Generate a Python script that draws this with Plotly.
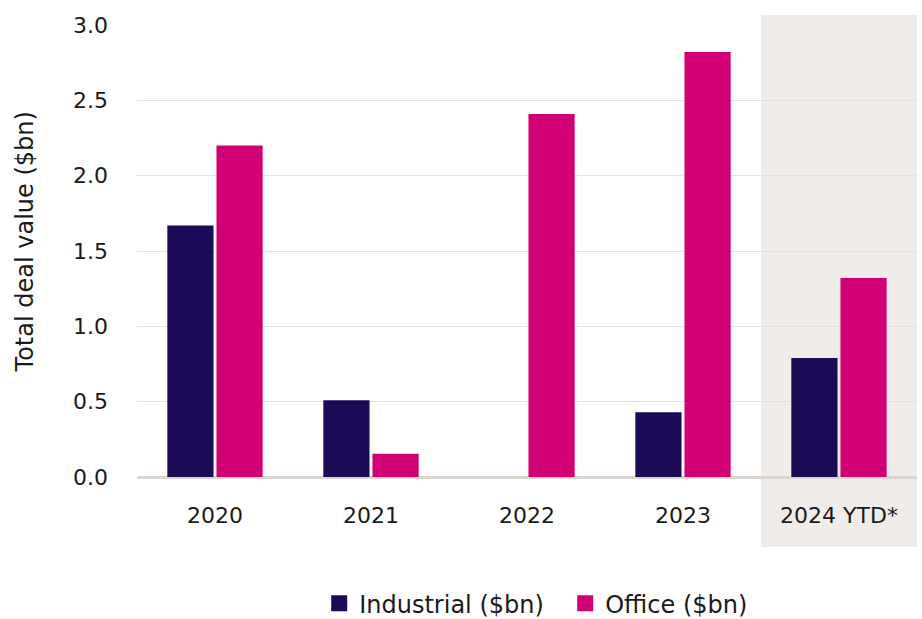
import plotly.graph_objects as go

# Deal value by year, in $bn
years = ["2020", "2021", "2022", "2023", "2024 YTD*"]
industrial = [1.67, 0.51, 0.0, 0.43, 0.79]
office = [2.2, 0.155, 2.41, 2.82, 1.32]
y_ticks = [0.0, 0.5, 1.0, 1.5, 2.0, 2.5, 3.0]
series_names = ["Industrial ($bn)", "Office ($bn)"]

FONT = "DejaVu Sans"
TEXT = "#1a1a1a"
NAVY = "#1c0a57"
MAGENTA = "#d10074"

fig = go.Figure()
for name, vals, col in zip(series_names, [industrial, office], [NAVY, MAGENTA]):
    fig.add_trace(go.Bar(name=name, x=years, y=vals, legendgroup=name,
                         showlegend=False,
                         marker=dict(color=col, line=dict(width=0))))
    # legend key with a larger square swatch
    fig.add_trace(go.Scatter(name=name, x=[None], y=[None], mode="markers",
                             legendgroup=name,
                             marker=dict(symbol="square", size=16, color=col)))

# Shaded band behind the year-to-date group
fig.add_shape(type="rect", xref="x", yref="paper",
              x0=3.5, x1=4.5, y0=-0.155, y1=1.022,
              fillcolor="#f0ece9", line=dict(width=0), layer="below")

fig.add_annotation(text="Total deal value ($bn)", textangle=-90,
                   xref="paper", yref="paper", x=-0.143, y=0.52,
                   xanchor="center", yanchor="middle", showarrow=False,
                   font=dict(family=FONT, size=24, color=TEXT))

fig.update_layout(
    width=922, height=619,
    margin=dict(l=137, r=5, t=25, b=142, autoexpand=False),
    paper_bgcolor="white", plot_bgcolor="rgba(0,0,0,0)",
    barmode="group", bargap=0.37, bargroupgap=0.06,
    font=dict(family=FONT, size=22, color=TEXT),
    legend=dict(orientation="h", x=0.549, xanchor="center",
                y=-0.33, yanchor="bottom", itemwidth=30,
                entrywidth=201,
                font=dict(family=FONT, size=24, color=TEXT)),
    xaxis=dict(range=[-0.5, 4.5], showgrid=False, showline=False,
               ticks="", tickfont=dict(size=22), ticklabelstandoff=23),
    yaxis=dict(range=[0, 3.0], tickvals=y_ticks,
               ticktext=[f"{v:.1f}" for v in y_ticks],
               showgrid=True, gridcolor="#e3e3e3", gridwidth=1,
               zeroline=True, zerolinecolor="#dcd6d0", zerolinewidth=3,
               showline=False, ticks="", ticklabelstandoff=28,
               tickfont=dict(size=22)),
)

fig.write_html("out.html")
